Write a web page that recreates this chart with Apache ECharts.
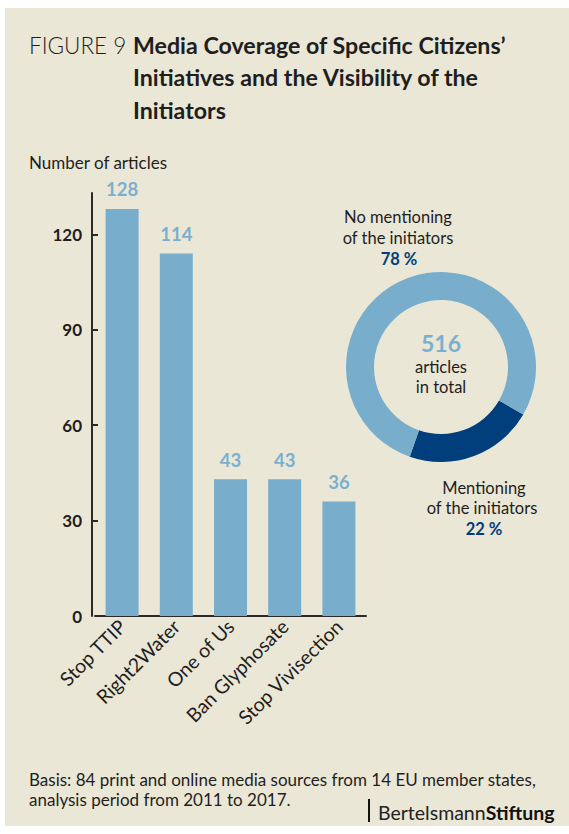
<!DOCTYPE html>
<html>
<head>
<meta charset="utf-8">
<script src="https://cdn.jsdelivr.net/npm/echarts@6/dist/echarts.min.js"></script>
<style>
html,body{margin:0;padding:0;background:#ffffff;}
#chart{width:569px;height:834px;}
</style>
</head>
<body>
<div id="chart"></div>
<script>
// ---- data ----
const categories = ['Stop TTIP', 'Right2Water', 'One of Us', 'Ban Glyphosate', 'Stop Vivisection'];
const articleCounts = [128, 114, 43, 43, 36];
const yTicks = [0, 30, 60, 90, 120];
const donutNames = ['Mentioning of the initiators', 'No mentioning of the initiators'];
const donutShares = [22, 78];
const totalArticles = 516;

const FONT = 'Lato, "Noto Sans", sans-serif';
const BG = '#ebe7d6';
const LIGHT = '#78aecb';
const LABEL_BLUE = '#7ab0cf';
const DARK = '#003f7b';
const INK = '#1e1e1e';

const chart = echarts.init(document.getElementById('chart'), null, {renderer: 'svg'});

function txt(x, y, text, size, weight, color, align) {
  return {
    type: 'text', x: x, y: y, z: 10,
    style: {
      text: text, fontFamily: FONT, fontSize: size, fontWeight: weight,
      fill: color, textAlign: align || 'left', textVerticalAlign: 'middle'
    }
  };
}

const option = {
  backgroundColor: '#ffffff',
  animation: false,
  textStyle: {fontFamily: FONT},
  grid: {left: 95, right: 203, top: 193, bottom: 218, containLabel: false},
  xAxis: {
    type: 'category',
    data: categories,
    axisLine: {show: true, lineStyle: {color: '#2a2a2a', width: 2}},
    axisTick: {show: false},
    axisLabel: {rotate: 45, color: INK, fontSize: 19.5, fontFamily: FONT, margin: 7, interval: 0}
  },
  yAxis: {
    type: 'value',
    min: 0, max: 133, interval: 30,
    offset: 3,
    splitLine: {show: false},
    axisLine: {show: true, lineStyle: {color: '#2a2a2a', width: 2}},
    axisTick: {show: true, inside: true, length: 6, lineStyle: {color: '#2a2a2a', width: 2},
               customValues: yTicks.slice(1)},
    axisLabel: {color: INK, fontSize: 17, fontWeight: 'bold', fontFamily: FONT, margin: 10,
                customValues: yTicks}
  },
  series: [
    {
      type: 'bar',
      data: articleCounts,
      barWidth: 33,
      itemStyle: {color: LIGHT},
      label: {show: true, position: 'top', distance: 10, color: LABEL_BLUE,
              fontSize: 18.5, fontWeight: 'bold', fontFamily: FONT}
    },
    {
      type: 'pie',
      center: [441, 367],
      radius: [67, 95],
      startAngle: -30,
      clockwise: true,
      label: {show: false},
      labelLine: {show: false},
      silent: true,
      data: donutNames.map((n, i) => ({name: n, value: donutShares[i],
        itemStyle: {color: i === 0 ? DARK : LIGHT}}))
    }
  ],
  graphic: [
    {type: 'rect', z: -10, shape: {x: 5, y: 8, width: 564, height: 818}, style: {fill: BG}},
    txt(29, 45, 'FIGURE 9', 22.5, 300, INK),
    txt(133, 45, 'Media Coverage of Specific Citizens\u2019', 23.2, 'bold', INK),
    txt(133, 77, 'Initiatives and the Visibility of the', 23.2, 'bold', INK),
    txt(133, 110, 'Initiators', 23.2, 'bold', INK),
    txt(29, 162, 'Number of articles', 17, 'normal', INK),
    txt(441, 343, String(totalArticles), 23, 'bold', LABEL_BLUE, 'center'),
    txt(441, 367, 'articles', 16.5, 'normal', INK, 'center'),
    txt(441, 387, 'in total', 16.5, 'normal', INK, 'center'),
    txt(398, 217, 'No mentioning', 16.5, 'normal', INK, 'center'),
    txt(398, 238, 'of the initiators', 16.5, 'normal', INK, 'center'),
    txt(399, 259, donutShares[1] + ' %', 16.5, 'bold', DARK, 'center'),
    txt(484, 488, 'Mentioning', 16.5, 'normal', INK, 'center'),
    txt(482, 508, 'of the initiators', 16.5, 'normal', INK, 'center'),
    txt(484, 529, donutShares[0] + ' %', 16.5, 'bold', DARK, 'center'),
    txt(29, 779, 'Basis: 84 print and online media sources from 14 EU member states,', 17, 'normal', INK),
    txt(29, 799, 'analysis period from 2011 to 2017.', 17, 'normal', INK),
    {type: 'rect', z: 10, shape: {x: 368, y: 799, width: 2, height: 23}, style: {fill: '#111'}},
    {
      type: 'text', x: 378, y: 812, z: 10,
      style: {
        text: '{a|Bertelsmann}{b|Stiftung}',
        textAlign: 'left', textVerticalAlign: 'middle',
        rich: {
          a: {fontFamily: FONT, fontSize: 19.5, fontWeight: 'normal', fill: '#222', color: '#222'},
          b: {fontFamily: FONT, fontSize: 19.5, fontWeight: 'bold', fill: '#111', color: '#111'}
        }
      }
    }
  ]
};
chart.setOption(option);
</script>
</body>
</html>
